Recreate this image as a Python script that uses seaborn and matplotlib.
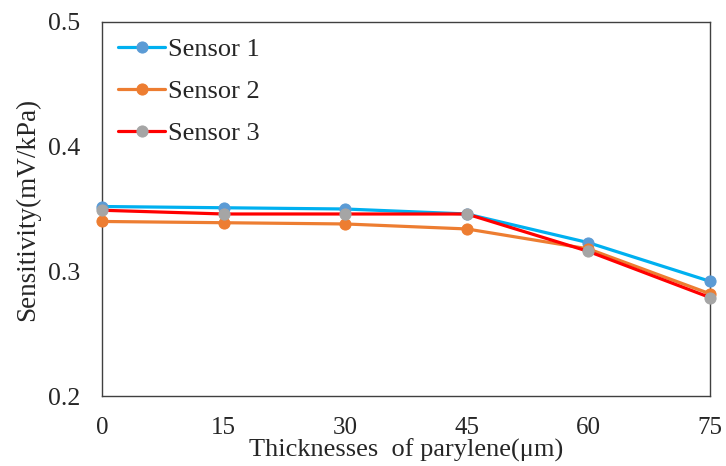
import numpy as np
import pandas as pd
import matplotlib
matplotlib.use('Agg')
import matplotlib.pyplot as plt
import seaborn as sns

thickness = [0, 15, 30, 45, 60, 75]
sensor1 = [0.352, 0.351, 0.350, 0.346, 0.323, 0.292]
sensor2 = [0.340, 0.339, 0.338, 0.334, 0.318, 0.282]
sensor3 = [0.349, 0.346, 0.346, 0.346, 0.316, 0.279]
labels = ['Sensor 1', 'Sensor 2', 'Sensor 3']
y_ticks = [0.2, 0.3, 0.4, 0.5]

sns.set_style('white')
plt.rcParams['font.family'] = ['Liberation Serif', 'DejaVu Serif']

line_colors = ['#00B0F0', '#ED7D31', '#FF0000']
marker_colors = ['#5B9BD5', '#ED7D31', '#A5A5A5']

fig = plt.figure(figsize=(7.26, 4.66), dpi=100)
ax = fig.add_axes([0.1405, 0.1502, 0.978 - 0.1405, 0.9528 - 0.1502])

for vals, lab, lc, mc in zip([sensor1, sensor2, sensor3], labels, line_colors, marker_colors):
    df = pd.DataFrame({'x': thickness, 'y': vals})
    sns.lineplot(data=df, x='x', y='y', ax=ax, color=lc, linewidth=2.3,
                 marker='o', markersize=8, markerfacecolor=mc,
                 markeredgecolor=mc, label=lab, clip_on=False, zorder=3)

ax.set_xlim(0, 75)
ax.set_ylim(0.2, 0.5)
ax.set_xticks(thickness)
ax.set_yticks(y_ticks)
ax.set_yticklabels([f'{t:.1f}' for t in y_ticks])
ax.tick_params(axis='x', length=0, labelsize=18, pad=15, colors='#262626')
ax.tick_params(axis='y', direction='in', length=5, width=1, labelsize=18.5,
               pad=16, color='#404040', labelcolor='#262626')
for s in ax.spines.values():
    s.set_color('#404040')
    s.set_linewidth(1.0)

ax.set_xlabel('Thicknesses  of parylene(μm)', fontsize=19, labelpad=0, color='#262626')
ax.set_ylabel('Sensitivity(mV/kPa)', fontsize=19.5, labelpad=5, color='#262626')

leg = ax.legend(loc='upper left', frameon=False, fontsize=19, handlelength=1.8,
                handletextpad=0.1, labelspacing=0.7, borderaxespad=0.2,
                bbox_to_anchor=(0.0, 1.0))
for t in leg.get_texts():
    t.set_color('#262626')

fig.savefig('out.png', dpi=100)
